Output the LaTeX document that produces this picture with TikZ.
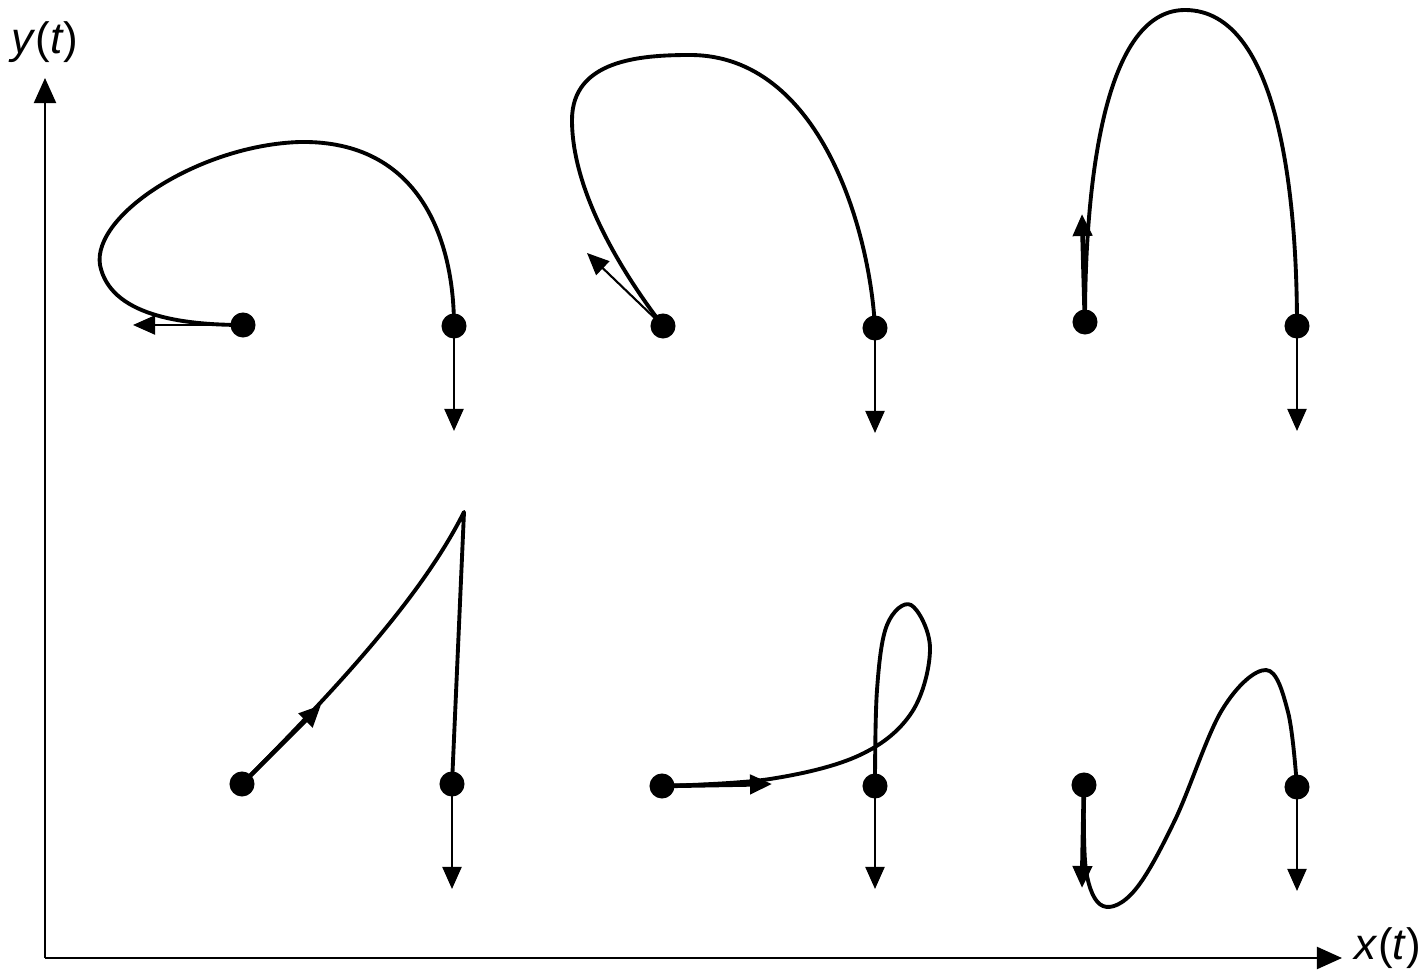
\documentclass[tikz,border=0pt]{standalone}
\usepackage{fontspec}
\setmainfont{Liberation Sans}
\usetikzlibrary{arrows.meta}
\begin{document}
\begin{tikzpicture}[x=0.01cm,y=-0.01cm,
  dot/.style={circle,fill=black,inner sep=0pt,minimum size=0.25cm},
  traj/.style={line width=1.1pt,line cap=round,line join=round},
  vel/.style={line width=0.6pt,-{Triangle[length=0.22cm,width=0.19cm]}},
  velthick/.style={line width=1.3pt,-{Triangle[length=0.22cm,width=0.19cm]}},
  axis/.style={line width=0.6pt,-{Triangle[length=0.25cm,width=0.22cm]}},
  lab/.style={font=\fontsize{12.5}{14}\selectfont,inner sep=0pt}]
\useasboundingbox (0,0) rectangle (1426,976);
% axes
\coordinate (O) at (45,958);
\coordinate (ytip) at (45,78);
\coordinate (xtip) at (1342,958);
\draw[axis] (O) -- (ytip);
\draw[axis] (O) -- (xtip);
\node[lab] (ylab) at (45,42) {\textit{y}(\textit{t})};
\node[lab] (xlab) at (1388,948) {\textit{x}(\textit{t})};

% ---------- panel 1 ----------
\node[dot] (s1) at (243,325) {};
\node[dot] (e1) at (454,326) {};
\coordinate (v1) at (133,325);
\coordinate (a1) at (454,431);
\draw[traj] (s1.center) .. controls (180,325) and (110,315) .. (100,265)
  .. controls (92,215) and (200,145) .. (300,142)
  .. controls (420,140) and (454,240) .. (e1.center);
\draw[vel] (s1.center) -- (v1);
\draw[vel] (e1.center) -- (a1);

% ---------- panel 2 ----------
\node[dot] (s2) at (663,326) {};
\node[dot] (e2) at (875,328) {};
\coordinate (v2) at (587,253);
\coordinate (a2) at (875,433);
\draw[traj] (s2.center) .. controls (620,270) and (572,190) .. (572,120)
  .. controls (572,60) and (640,55) .. (690,55)
  .. controls (820,55) and (870,230) .. (e2.center);
\draw[vel] (s2.center) -- (v2);
\draw[vel] (e2.center) -- (a2);

% ---------- panel 3 ----------
\node[dot] (s3) at (1085,322) {};
\node[dot] (e3) at (1297,326) {};
\coordinate (v3) at (1082,214);
\coordinate (a3) at (1297,431);
\draw[traj] (s3.center) .. controls (1085,200) and (1100,10) .. (1185,10)
  .. controls (1280,10) and (1297,200) .. (e3.center);
\draw[velthick] (s3.center) -- (v3);
\draw[vel] (e3.center) -- (a3);

% ---------- panel 4 ----------
\node[dot] (s4) at (242,784) {};
\node[dot] (e4) at (452,784) {};
\coordinate (cusp) at (464,512);
\coordinate (v4) at (321,705);
\coordinate (a4) at (452,889);
\draw[traj] (s4.center) .. controls (330,695) and (420,600) .. (cusp) -- (e4.center);
\draw[velthick] (s4.center) -- (v4);
\draw[vel] (e4.center) -- (a4);

% ---------- panel 5 ----------
\node[dot] (s5) at (662,786) {};
\node[dot] (e5) at (875,786) {};
\coordinate (v5) at (772,784);
\coordinate (a5) at (875,889);
\draw[traj] plot[smooth,tension=0.6] coordinates {(s5.center) (770,779) (860,755) (912,712) (930,648) (911,605) (887,625) (877,690) (e5.center)};
\draw[velthick] (s5.center) -- (v5);
\draw[vel] (e5.center) -- (a5);

% ---------- panel 6 ----------
\node[dot] (s6) at (1084,785) {};
\node[dot] (e6) at (1297,787) {};
\coordinate (v6) at (1082,888);
\coordinate (a6) at (1297,891);
\draw[traj] plot[smooth,tension=0.6] coordinates {(s6.center) (1086,870) (1103,906) (1135,890) (1175,820) (1222,710) (1266,670) (1288,712) (e6.center)};
\draw[velthick] (s6.center) -- (v6);
\draw[vel] (e6.center) -- (a6);
\end{tikzpicture}
\end{document}
